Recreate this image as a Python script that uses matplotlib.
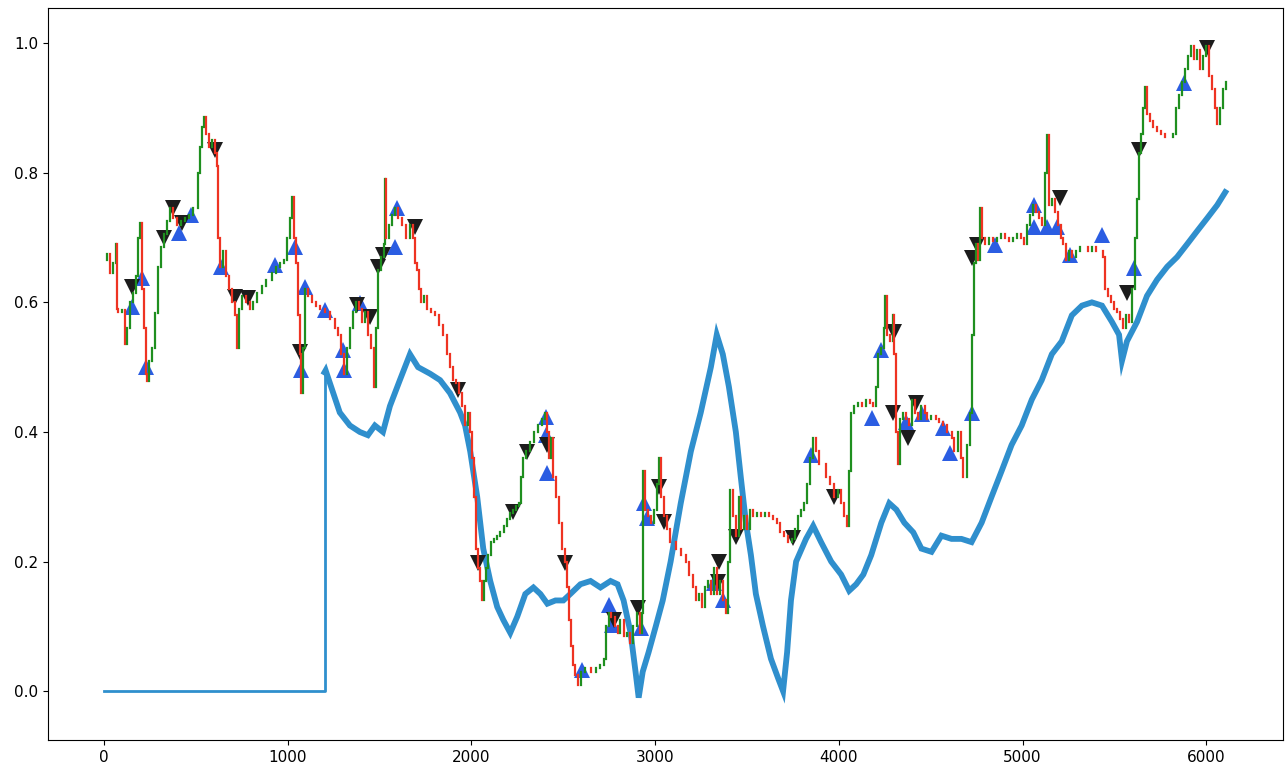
import numpy as np
import matplotlib
matplotlib.use("Agg")
import matplotlib.pyplot as plt
from matplotlib.collections import LineCollection

# -- price path (normalised) --------------------------------------
price_x = [
    0, 16, 33, 49, 66, 71, 76, 98, 115, 126, 142, 158, 175, 186, 197, 207, 218, 229, 235, 246,
    262, 278, 295, 311, 328, 344, 360, 377, 398, 420, 442, 464, 486, 502, 513, 524, 535, 546, 557, 573,
    590, 606, 617, 622, 633, 650, 666, 682, 699, 715, 726, 737, 753, 775, 792, 808, 830, 857, 884, 912,
    934, 955, 977, 994, 1010, 1021, 1032, 1043, 1054, 1065, 1070, 1081, 1092, 1108, 1130, 1152, 1174, 1201, 1228, 1256,
    1272, 1288, 1305, 1321, 1338, 1354, 1370, 1387, 1403, 1419, 1436, 1452, 1469, 1479, 1490, 1507, 1523, 1529, 1534, 1550,
    1567, 1583, 1600, 1621, 1643, 1665, 1681, 1692, 1703, 1714, 1725, 1741, 1758, 1780, 1801, 1823, 1845, 1867, 1883, 1900,
    1916, 1932, 1949, 1965, 1982, 1993, 2003, 2014, 2025, 2036, 2047, 2058, 2069, 2080, 2091, 2107, 2124, 2140, 2156, 2178,
    2195, 2211, 2227, 2244, 2260, 2271, 2282, 2298, 2320, 2342, 2364, 2386, 2402, 2413, 2424, 2435, 2446, 2462, 2478, 2495,
    2511, 2522, 2533, 2544, 2555, 2566, 2582, 2598, 2620, 2648, 2675, 2702, 2719, 2730, 2746, 2762, 2779, 2795, 2811, 2828,
    2844, 2861, 2877, 2899, 2915, 2926, 2932, 2942, 2959, 2975, 2992, 3008, 3019, 3030, 3046, 3063, 3079, 3095, 3112, 3139,
    3166, 3183, 3205, 3221, 3237, 3254, 3270, 3286, 3303, 3319, 3335, 3352, 3368, 3385, 3396, 3406, 3423, 3439, 3456, 3466,
    3483, 3499, 3516, 3532, 3554, 3576, 3598, 3619, 3641, 3663, 3679, 3701, 3723, 3745, 3761, 3778, 3794, 3810, 3827, 3843,
    3860, 3876, 3892, 3909, 3930, 3952, 3974, 3996, 4012, 4029, 4045, 4056, 4067, 4083, 4105, 4127, 4149, 4171, 4187, 4204,
    4214, 4231, 4247, 4253, 4263, 4280, 4296, 4302, 4313, 4324, 4335, 4351, 4367, 4384, 4400, 4416, 4433, 4449, 4466, 4482,
    4504, 4526, 4547, 4569, 4591, 4613, 4629, 4646, 4662, 4678, 4695, 4711, 4722, 4733, 4744, 4755, 4766, 4777, 4793, 4815,
    4837, 4859, 4880, 4902, 4924, 4946, 4968, 4990, 5006, 5022, 5039, 5055, 5072, 5088, 5104, 5121, 5131, 5143, 5159, 5175,
    5192, 5208, 5219, 5235, 5252, 5268, 5290, 5312, 5334, 5356, 5377, 5399, 5421, 5437, 5448, 5465, 5481, 5497, 5514, 5530,
    5546, 5563, 5579, 5595, 5612, 5623, 5634, 5644, 5655, 5666, 5677, 5694, 5710, 5732, 5754, 5776, 5797, 5819, 5836, 5852,
    5868, 5885, 5901, 5917, 5934, 5950, 5966, 5983, 5999, 6015, 6032, 6048, 6059, 6075, 6092, 6108,
]
price_y = [
    0.665, 0.675, 0.645, 0.66, 0.69, 0.59, 0.585, 0.588, 0.535, 0.56, 0.60, 0.615, 0.64, 0.70, 0.722, 0.62, 0.56, 0.49, 0.478, 0.51,
    0.53, 0.583, 0.654, 0.685, 0.705, 0.725, 0.745, 0.73, 0.72, 0.725, 0.73, 0.735, 0.745, 0.745, 0.80, 0.84, 0.87, 0.886, 0.86, 0.84,
    0.85, 0.83, 0.81, 0.70, 0.655, 0.68, 0.64, 0.62, 0.60, 0.58, 0.53, 0.59, 0.61, 0.60, 0.59, 0.60, 0.615, 0.625, 0.635, 0.645,
    0.655, 0.66, 0.665, 0.70, 0.73, 0.762, 0.70, 0.66, 0.58, 0.52, 0.46, 0.53, 0.62, 0.61, 0.60, 0.595, 0.59, 0.585, 0.575, 0.56,
    0.55, 0.52, 0.49, 0.53, 0.56, 0.585, 0.60, 0.59, 0.57, 0.585, 0.55, 0.53, 0.47, 0.56, 0.65, 0.67, 0.69, 0.79, 0.70, 0.72,
    0.735, 0.745, 0.73, 0.72, 0.70, 0.72, 0.70, 0.66, 0.65, 0.62, 0.60, 0.61, 0.59, 0.585, 0.58, 0.565, 0.55, 0.52, 0.50, 0.48,
    0.475, 0.46, 0.44, 0.41, 0.43, 0.40, 0.36, 0.30, 0.22, 0.19, 0.17, 0.14, 0.17, 0.19, 0.21, 0.23, 0.235, 0.24, 0.245, 0.255,
    0.265, 0.275, 0.28, 0.285, 0.29, 0.33, 0.36, 0.37, 0.385, 0.40, 0.41, 0.42, 0.43, 0.40, 0.36, 0.39, 0.33, 0.30, 0.26, 0.22,
    0.20, 0.16, 0.11, 0.07, 0.04, 0.025, 0.01, 0.03, 0.035, 0.03, 0.035, 0.04, 0.05, 0.10, 0.12, 0.115, 0.10, 0.09, 0.11, 0.085,
    0.09, 0.075, 0.10, 0.12, 0.09, 0.12, 0.34, 0.28, 0.27, 0.26, 0.28, 0.32, 0.36, 0.30, 0.27, 0.25, 0.23, 0.23, 0.22, 0.21,
    0.20, 0.18, 0.16, 0.14, 0.15, 0.13, 0.16, 0.17, 0.15, 0.19, 0.15, 0.17, 0.14, 0.12, 0.20, 0.31, 0.27, 0.24, 0.30, 0.25,
    0.27, 0.25, 0.28, 0.27, 0.275, 0.27, 0.275, 0.27, 0.265, 0.26, 0.245, 0.24, 0.23, 0.235, 0.25, 0.27, 0.28, 0.29, 0.32, 0.36,
    0.39, 0.37, 0.35, 0.35, 0.33, 0.32, 0.30, 0.31, 0.29, 0.27, 0.255, 0.34, 0.43, 0.44, 0.445, 0.44, 0.45, 0.445, 0.44, 0.47,
    0.52, 0.53, 0.56, 0.61, 0.55, 0.54, 0.58, 0.52, 0.40, 0.35, 0.42, 0.43, 0.42, 0.41, 0.45, 0.43, 0.42, 0.44, 0.43, 0.42,
    0.425, 0.42, 0.415, 0.41, 0.40, 0.39, 0.37, 0.40, 0.36, 0.33, 0.38, 0.43, 0.55, 0.66, 0.69, 0.665, 0.745, 0.70, 0.69, 0.70,
    0.695, 0.70, 0.705, 0.70, 0.695, 0.70, 0.705, 0.70, 0.69, 0.72, 0.735, 0.75, 0.74, 0.73, 0.72, 0.80, 0.858, 0.75, 0.76, 0.74,
    0.72, 0.70, 0.69, 0.665, 0.68, 0.67, 0.68, 0.685, 0.685, 0.68, 0.685, 0.68, 0.68, 0.67, 0.62, 0.61, 0.60, 0.59, 0.585, 0.575,
    0.56, 0.58, 0.57, 0.62, 0.70, 0.76, 0.83, 0.86, 0.90, 0.932, 0.89, 0.88, 0.87, 0.865, 0.86, 0.855, 0.855, 0.86, 0.90, 0.92,
    0.94, 0.96, 0.98, 0.995, 0.975, 0.99, 0.96, 0.98, 0.995, 0.95, 0.93, 0.90, 0.876, 0.90, 0.93, 0.94,
]

# -- indicator (zero until warm-up finishes) -----------------------
ind_x = [
    0, 1200, 1200, 1206, 1283, 1338, 1392, 1436, 1474, 1518, 1556, 1610, 1665, 1709, 1774, 1829, 1883, 1938, 1965, 1993,
    2031, 2064, 2102, 2140, 2173, 2211, 2249, 2293, 2337, 2375, 2413, 2457, 2500, 2538, 2593, 2648, 2702, 2757, 2795, 2828,
    2866, 2893, 2910, 2932, 2964, 3003, 3041, 3084, 3139, 3194, 3248, 3303, 3335, 3368, 3401, 3439, 3466, 3494, 3521, 3548,
    3587, 3630, 3669, 3696, 3718, 3739, 3767, 3821, 3860, 3903, 3958, 4012, 4056, 4094, 4133, 4176, 4231, 4274, 4313, 4356,
    4405, 4449, 4504, 4558, 4613, 4667, 4722, 4777, 4831, 4886, 4940, 4995, 5050, 5104, 5159, 5213, 5268, 5323, 5377, 5432,
    5486, 5525, 5541, 5568, 5623, 5677, 5732, 5787, 5841, 5896, 5950, 6005, 6059, 6103,
]
ind_y = [
    0.0, 0.0, 0.492, 0.495, 0.43, 0.41, 0.40, 0.395, 0.41, 0.40, 0.44, 0.48, 0.52, 0.50, 0.49, 0.48, 0.46, 0.43, 0.41, 0.37,
    0.30, 0.22, 0.17, 0.13, 0.11, 0.09, 0.115, 0.15, 0.16, 0.15, 0.135, 0.14, 0.14, 0.15, 0.165, 0.17, 0.16, 0.17, 0.165, 0.14,
    0.09, 0.03, -0.01, 0.03, 0.06, 0.10, 0.14, 0.20, 0.29, 0.37, 0.43, 0.50, 0.55, 0.52, 0.47, 0.40, 0.33, 0.26, 0.21, 0.15,
    0.10, 0.05, 0.02, 0.00, 0.06, 0.14, 0.20, 0.235, 0.255, 0.23, 0.20, 0.18, 0.155, 0.165, 0.18, 0.21, 0.26, 0.29, 0.28, 0.26,
    0.245, 0.22, 0.215, 0.24, 0.235, 0.235, 0.23, 0.26, 0.30, 0.34, 0.38, 0.41, 0.45, 0.48, 0.52, 0.54, 0.58, 0.595, 0.60, 0.595,
    0.57, 0.55, 0.51, 0.54, 0.57, 0.61, 0.635, 0.655, 0.67, 0.69, 0.71, 0.73, 0.75, 0.77,
]

# -- trade signals ------------------------------------------------
buy_x = [153, 207, 229, 409, 475, 639, 928, 1037, 1070, 1092, 1201, 1299, 1305, 1392, 1583, 1594,
         2407, 2407, 2413, 2604, 2747, 2767, 2920, 2937, 2958, 3320, 3368, 3848, 4181, 4230, 4367,
         4455, 4569, 4602, 4722, 4847, 5060, 5060, 5131, 5186, 5257, 5431, 5606, 5879]
buy_y = [0.593, 0.637, 0.50, 0.707, 0.735, 0.655, 0.657, 0.685, 0.495, 0.624, 0.588, 0.526, 0.495, 0.599, 0.685, 0.745,
         0.423, 0.395, 0.336, 0.032, 0.133, 0.102, 0.097, 0.29, 0.267, 0.167, 0.14, 0.364, 0.421, 0.526, 0.415,
         0.428, 0.406, 0.367, 0.429, 0.688, 0.75, 0.716, 0.716, 0.716, 0.673, 0.704, 0.653, 0.938]

sell_x = [153, 328, 376, 426, 606, 710, 781, 1064, 1376, 1446, 1490, 1517, 1692, 1927, 2036, 2227, 2303,
          2413, 2511, 2773, 2909, 3018, 3046, 3340, 3346, 3439, 3750, 3974, 4295, 4301, 4377, 4421,
          4722, 4749, 5202, 5568, 5633, 6004]
sell_y = [0.624, 0.70, 0.745, 0.722, 0.835, 0.608, 0.606, 0.523, 0.596, 0.578, 0.655, 0.673, 0.716, 0.464, 0.198, 0.276, 0.369,
          0.38, 0.198, 0.11, 0.128, 0.315, 0.261, 0.168, 0.199, 0.238, 0.236, 0.30, 0.43, 0.554, 0.39, 0.444,
          0.668, 0.688, 0.761, 0.614, 0.835, 0.992]


fig = plt.figure(figsize=(12.85, 7.71), dpi=100)
ax = fig.add_axes((0.0374, 0.040, 0.9607, 0.9494))

# indicator underneath everything
ax.plot(ind_x[:3], ind_y[:3], color='#2f8fcd', lw=2.0, zorder=1)
ax.plot(ind_x[2:], ind_y[2:], color='#2f8fcd', lw=4.2, solid_joinstyle='miter', zorder=1)

# signals
ax.plot(buy_x, buy_y, '^', color='#2b5de2', ms=12, mew=0, zorder=2)
ax.plot(sell_x, sell_y, 'v', color='#1c1c1c', ms=12, mew=0, zorder=2)

# price bars: one vertical move per step, green up / red down
px = np.asarray(price_x, dtype=float)
py = np.asarray(price_y, dtype=float)
segs = np.stack([np.column_stack([px[1:], py[:-1]]), np.column_stack([px[1:], py[1:]])], axis=1)
cols = np.where(py[1:] >= py[:-1], '#1f8f1f', '#ee3322')
bars = LineCollection(segs, colors=cols, linewidths=1.6, zorder=3)
bars.set_capstyle('projecting')
ax.add_collection(bars)

ax.set_xlim(-305, 6415)
ax.set_ylim(-0.0756, 1.054)
ax.set_xticks(range(0, 7000, 1000))
ax.set_yticks([0.0, 0.2, 0.4, 0.6, 0.8, 1.0])
ax.tick_params(labelsize=11)

fig.savefig('out.png', dpi=100)
